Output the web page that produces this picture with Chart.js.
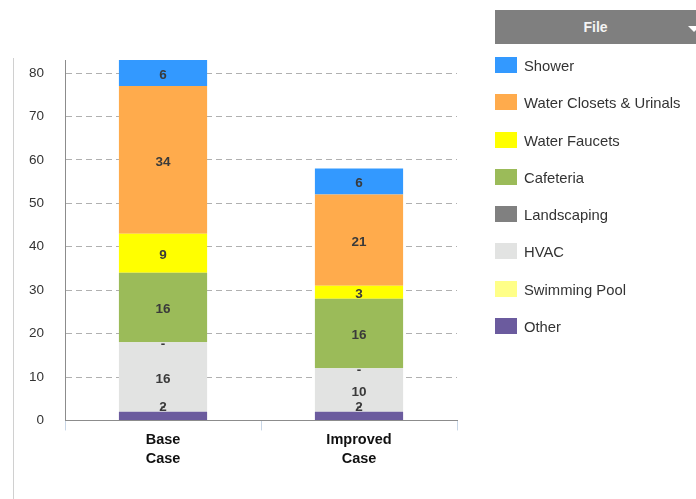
<!DOCTYPE html>
<html>
<head>
<meta charset="utf-8">
<script src="https://cdn.jsdelivr.net/npm/chart.js@4.4.0/dist/chart.umd.min.js"></script>
<style>
  html, body { margin: 0; padding: 0; background: #fff; }
  body { width: 696px; height: 499px; position: relative; overflow: hidden; font-family: 'Liberation Sans', Arial, sans-serif; }
  #edge { position: absolute; left: 13px; top: 58px; width: 1px; height: 441px; background: #d0d0d0; }
  #wrap { position: absolute; left: 0; top: 0; width: 696px; height: 499px; }
  #file { position: absolute; left: 495px; top: 10px; width: 201px; height: 34px; background: #7f7f7f; color: #f4f4f4; font-weight: bold; font-size: 14px; line-height: 34px; text-align: center; }
  #file:after { content: ''; position: absolute; right: -4px; top: 16px; border-left: 6px solid transparent; border-right: 6px solid transparent; border-top: 6px solid #fff; }
  #legend { position: absolute; left: 495px; top: 57px; margin: 0; padding: 0; list-style: none; }
  #legend li { height: 37.3px; display: flex; align-items: flex-start; font-size: 14.8px; color: #333; }
  #legend span { display: inline-block; width: 22px; height: 16px; margin-right: 7px; }
  #legend li div { line-height: 19px; }
</style>
</head>
<body>
<div id="edge"></div>
<div id="wrap"><canvas id="myChart"></canvas></div>
<div id="file">File</div>
<ul id="legend"></ul>
<script>
(() => {
  'use strict'

  const categories = [['Base', 'Case'], ['Improved', 'Case']]

  // legend order (top of stack first)
  const seriesNames = ['Shower', 'Water Closets & Urinals', 'Water Faucets', 'Cafeteria', 'Landscaping', 'HVAC', 'Swimming Pool', 'Other']
  const seriesColors = ['#3399ff', '#ffab4c', '#ffff00', '#9bbb59', '#808080', '#e2e3e2', '#ffff88', '#6b5b9e']

  const shower = [6, 6]
  const closets = [34, 21]
  const faucets = [9, 3]
  const cafeteria = [16, 16]
  const landscaping = [0, 0]
  const hvac = [16, 10]
  const pool = [0, 0]
  const other = [2, 2]

  const yTicks = [0, 10, 20, 30, 40, 50, 60, 70, 80]

  const seriesValues = [shower, closets, faucets, cafeteria, landscaping, hvac, pool, other]

  // stack from the bottom up: reverse of the legend
  const datasets = seriesNames.map((name, i) => ({
    label: name,
    data: seriesValues[i],
    backgroundColor: seriesColors[i],
    borderWidth: 0,
    barPercentage: 0.45,
    categoryPercentage: 1
  })).reverse()

  const font = "'Liberation Sans', Arial, sans-serif"

  const segmentLabels = {
    id: 'segmentLabels',
    afterDatasetsDraw (chart) {
      const { ctx, chartArea } = chart
      ctx.save()
      ctx.font = 'bold 13.5px ' + font
      ctx.fillStyle = '#3a3a3a'
      ctx.textAlign = 'center'
      ctx.textBaseline = 'middle'
      chart.data.datasets.forEach((ds, di) => {
        const meta = chart.getDatasetMeta(di)
        meta.data.forEach((bar, i) => {
          const v = ds.data[i]
          let y = (bar.y + bar.base) / 2 + 2
          y = Math.min(y, chartArea.bottom - 13)
          ctx.fillText(v === 0 ? '-' : String(v), bar.x, y)
        })
      })
      ctx.restore()
    }
  }

  const ctx = document.getElementById('myChart')
  // eslint-disable-next-line no-unused-vars
  const myChart = new Chart(ctx, {
    type: 'bar',
    data: { labels: categories, datasets },
    options: {
      responsive: true,
      maintainAspectRatio: false,
      animation: false,
      layout: { padding: { left: 8, right: 239, top: 60, bottom: 30 } },
      scales: {
        x: {
          stacked: true,
          grid: { drawOnChartArea: false, drawTicks: true, tickLength: 10, color: '#c8d6e6' },
          border: { color: '#8c8c8c', width: 1 },
          ticks: { color: '#111', padding: 0, font: { family: font, size: 14.5, weight: 'bold', lineHeight: 1.33 } }
        },
        y: {
          stacked: true,
          min: 0,
          max: 83,
          afterBuildTicks: axis => { axis.ticks = yTicks.map(v => ({ value: v })) },
          grid: { drawTicks: false, color: '#b0b0b0' },
          border: { color: '#8c8c8c', width: 1, dash: [6, 4] },
          ticks: { color: '#333', padding: 21, font: { family: font, size: 13.5 } }
        }
      },
      plugins: {
        legend: { display: false },
        tooltip: { enabled: false }
      }
    },
    plugins: [segmentLabels]
  })

  const legend = document.getElementById('legend')
  seriesNames.forEach((name, i) => {
    const li = document.createElement('li')
    li.innerHTML = '<span style="background:' + seriesColors[i] + '"></span><div></div>'
    li.querySelector('div').textContent = name
    legend.appendChild(li)
  })
})()
</script>
</body>
</html>
